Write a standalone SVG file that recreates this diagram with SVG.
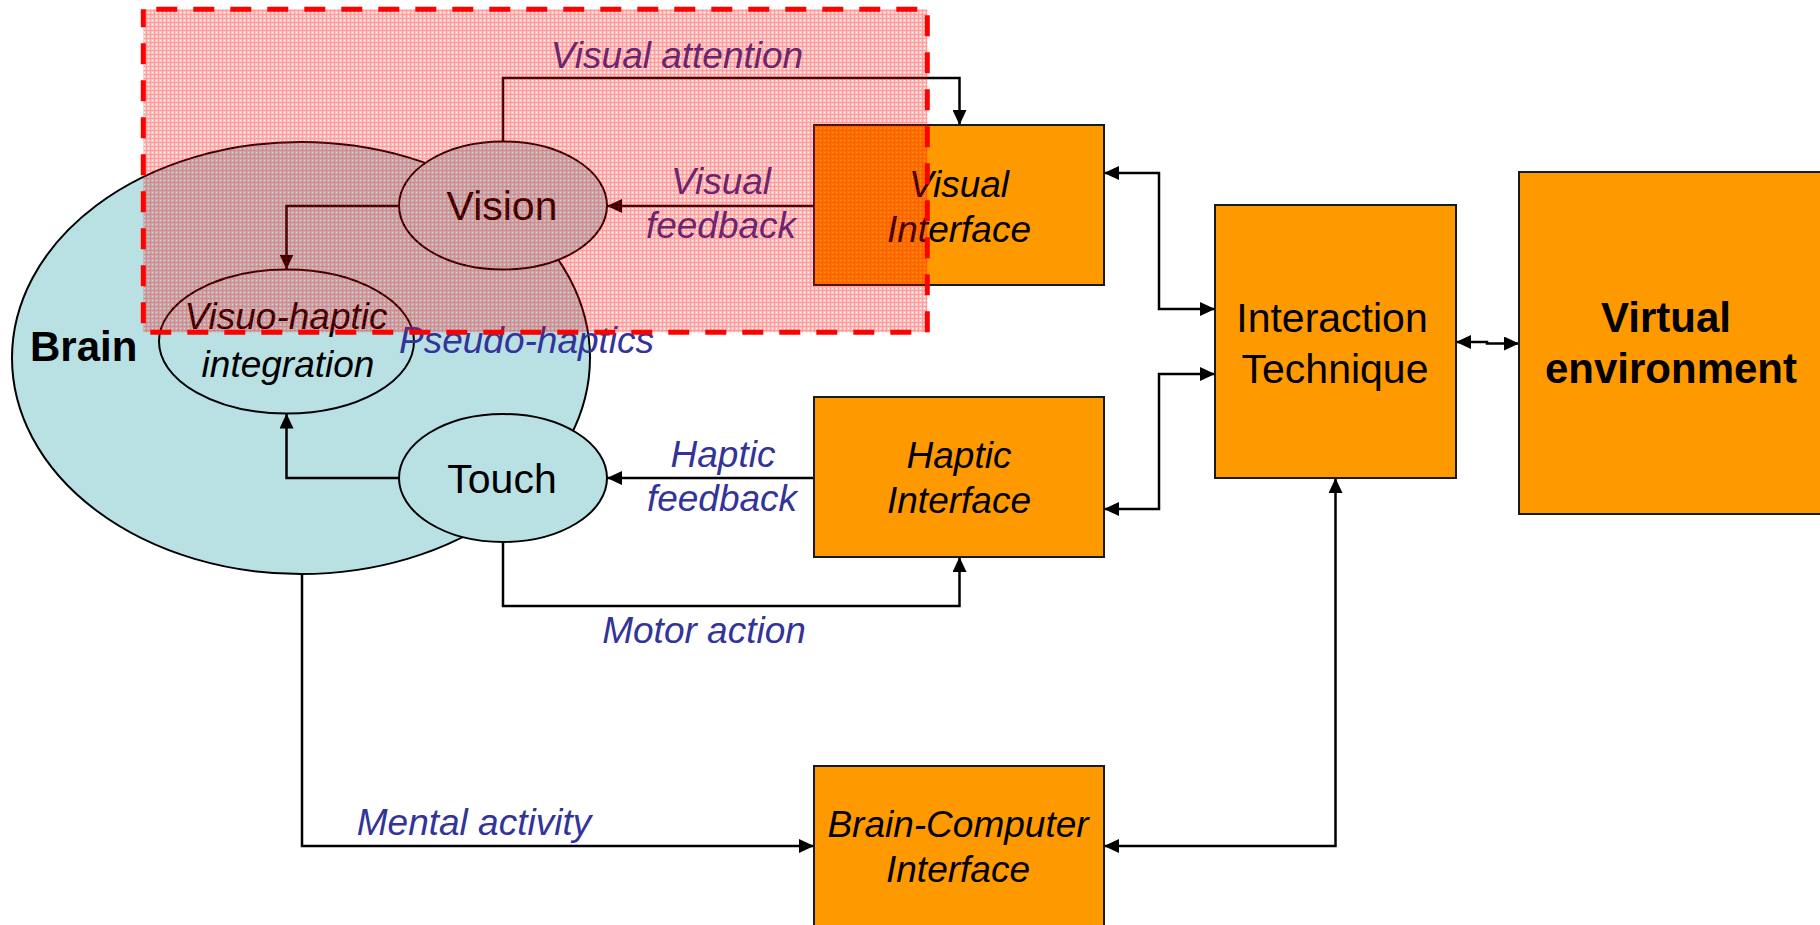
<svg xmlns="http://www.w3.org/2000/svg" width="1820" height="925" viewBox="0 0 1820 925">
<style>
.ell{fill:#b9e0e3;stroke:#000;stroke-width:2}
.box{fill:#ff9900;stroke:#1a1a1a;stroke-width:2}
.con{fill:none;stroke:#000;stroke-width:2.5}
.lbl{font-family:"Liberation Sans",Arial,sans-serif;font-style:italic;font-size:37px;fill:#333399}
.it{font-family:"Liberation Sans",Arial,sans-serif;font-style:italic;font-size:37px;fill:#000}
.reg{font-family:"Liberation Sans",Arial,sans-serif;font-size:41px;fill:#000}
.bold{font-family:"Liberation Sans",Arial,sans-serif;font-weight:bold;font-size:42px;fill:#000}
</style>
<defs>
<marker id="arr" markerUnits="userSpaceOnUse" markerWidth="16" markerHeight="14" refX="15" refY="7" orient="auto-start-reverse" viewBox="0 0 16 14">
<path d="M0,0 L15,7 L0,14 z" fill="#000"/>
</marker>
<pattern id="mesh" width="4" height="4" patternUnits="userSpaceOnUse">
<path d="M1,0 H4 V4 H0 V1 H1 z" fill="#ff0000" fill-opacity="0.24"/>
<rect x="0" y="2" width="4" height="1" fill="#ff0000" fill-opacity="0.16"/>
<rect x="2" y="0" width="1" height="4" fill="#ff0000" fill-opacity="0.16"/>
</pattern>
</defs>
<rect width="1820" height="925" fill="#fff"/>

<g id="brain">
<ellipse class="ell" cx="301" cy="358" rx="289" ry="216"/>
<text class="bold" x="30" y="361">Brain</text>
</g>

<g id="connectors">
<path class="con" d="M503,142 V78 H959.5 V125" marker-end="url(#arr)"/>
<path class="con" d="M814,206 H607" marker-end="url(#arr)"/>
<path class="con" d="M399,206 H286.5 V269.5" marker-end="url(#arr)"/>
<path class="con" d="M399,478 H286.5 V413.5" marker-end="url(#arr)"/>
<path class="con" d="M814,478 H607" marker-end="url(#arr)"/>
<path class="con" d="M503,542 V606 H959.5 V557" marker-end="url(#arr)"/>
<path class="con" d="M302,574 V846 H814" marker-end="url(#arr)"/>
<path class="con" d="M1104,846 H1335.5 V478" marker-start="url(#arr)" marker-end="url(#arr)"/>
<path class="con" d="M1104,173 H1159 V309 H1215" marker-start="url(#arr)" marker-end="url(#arr)"/>
<path class="con" d="M1215,374 H1159 V509 H1104" marker-start="url(#arr)" marker-end="url(#arr)"/>
<path class="con" d="M1456,342 H1487 V343.5 H1519" marker-start="url(#arr)" marker-end="url(#arr)"/>
</g>

<g id="vision">
<ellipse class="ell" cx="503" cy="205.5" rx="104" ry="64"/>
<text class="reg" x="502" y="220" text-anchor="middle">Vision</text>
</g>
<g id="touch">
<ellipse class="ell" cx="503" cy="478" rx="104" ry="64"/>
<text class="reg" x="502" y="493" text-anchor="middle">Touch</text>
</g>
<g id="visuo-haptic">
<ellipse class="ell" cx="286.5" cy="341.5" rx="127.5" ry="72"/>
<text class="it" x="286" y="329" text-anchor="middle">Visuo-haptic</text>
<text class="it" x="288" y="377" text-anchor="middle">integration</text>
</g>

<g id="visual-interface">
<rect class="box" x="814" y="125" width="290" height="160"/>
<text class="it" x="959" y="197" text-anchor="middle">Visual</text>
<text class="it" x="959" y="242" text-anchor="middle">Interface</text>
</g>
<g id="haptic-interface">
<rect class="box" x="814" y="397" width="290" height="160"/>
<text class="it" x="959" y="468" text-anchor="middle">Haptic</text>
<text class="it" x="959" y="513" text-anchor="middle">Interface</text>
</g>
<g id="bci">
<rect class="box" x="814" y="766" width="290" height="170"/>
<text class="it" x="958" y="837" text-anchor="middle">Brain-Computer</text>
<text class="it" x="958" y="882" text-anchor="middle">Interface</text>
</g>
<g id="interaction-technique">
<rect class="box" x="1215" y="205" width="241" height="273"/>
<text class="reg" x="1332" y="332" text-anchor="middle">Interaction</text>
<text class="reg" x="1335" y="383" text-anchor="middle">Technique</text>
</g>
<g id="virtual-environment">
<rect class="box" x="1519" y="172" width="320" height="342"/>
<text class="bold" x="1666" y="332" text-anchor="middle">Virtual</text>
<text class="bold" x="1671" y="383" text-anchor="middle">environment</text>
</g>

<g id="labels">
<text class="lbl" x="677" y="68" text-anchor="middle">Visual attention</text>
<text class="lbl" x="721" y="194" text-anchor="middle">Visual</text>
<text class="lbl" x="721" y="238" text-anchor="middle">feedback</text>
<text class="lbl" x="723" y="467" text-anchor="middle">Haptic</text>
<text class="lbl" x="722" y="511" text-anchor="middle">feedback</text>
<text class="lbl" x="399" y="353">Pseudo-haptics</text>
<text class="lbl" x="704" y="643" text-anchor="middle">Motor action</text>
<text class="lbl" x="474" y="835" text-anchor="middle">Mental activity</text>
</g>

<g id="highlight">
<rect x="143.3" y="9.3" width="784" height="323" fill="url(#mesh)" stroke="#ff0000" stroke-width="5" stroke-dasharray="21 16" stroke-dashoffset="24"/>
</g>
</svg>
